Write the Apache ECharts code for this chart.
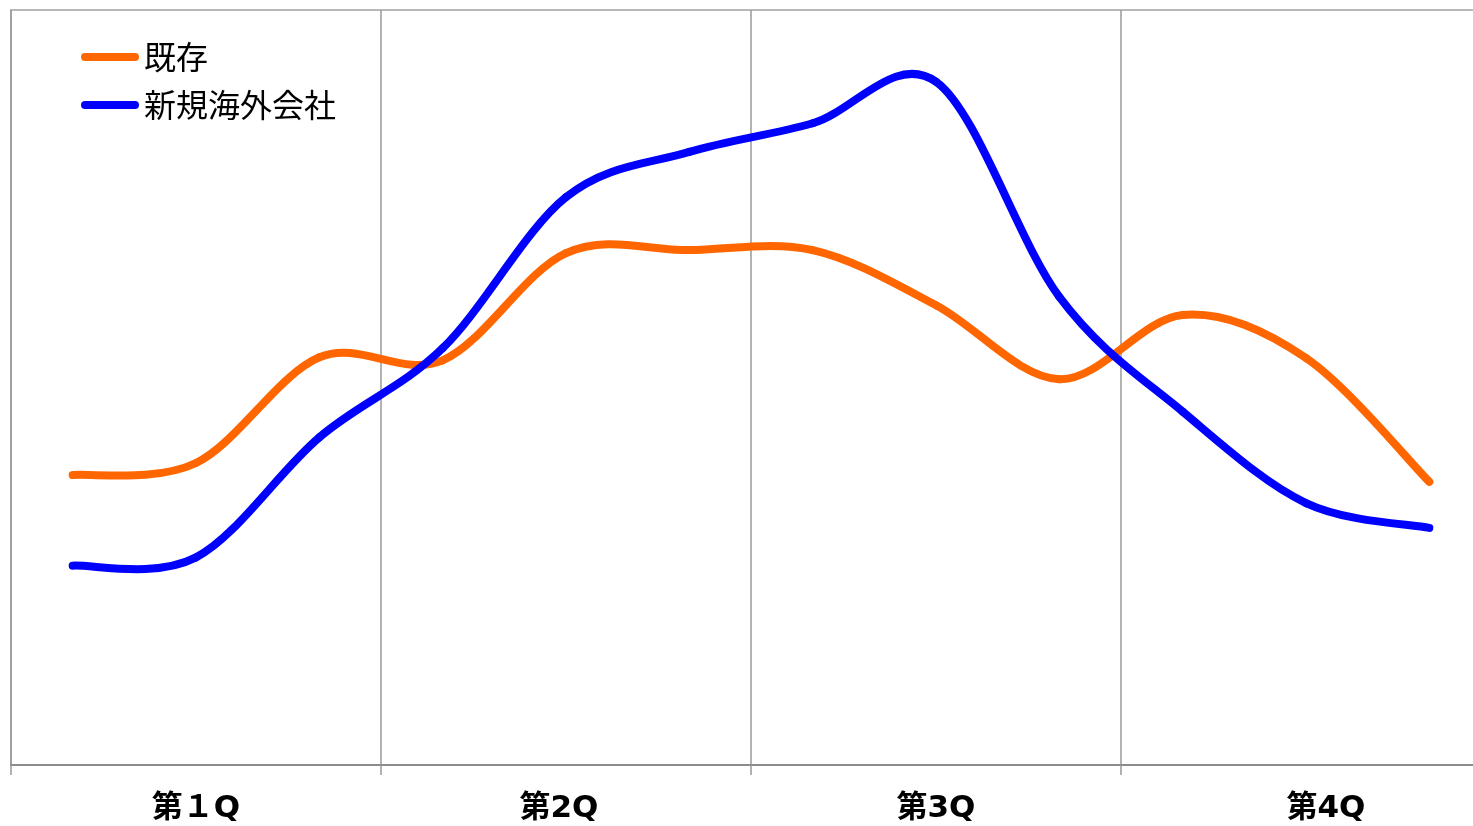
<!DOCTYPE html>
<html>
<head>
<meta charset="utf-8">
<script src="https://cdn.jsdelivr.net/npm/echarts@6/dist/echarts.min.js"></script>
<style>
html,body{margin:0;padding:0;background:#fff;overflow:hidden;width:1473px;height:826px;}
#chart{width:1493px;height:826px;}
</style>
</head>
<body>
<div id="chart"></div>
<script>
var months = ['1月','2月','3月','4月','5月','6月','7月','8月','9月','10月','11月','12月'];
var quarterLabels = ['第１Q','第2Q','第3Q','第4Q'];
var seriesNames = ['既存','新規海外会社'];
var existing = [38.4, 40.0, 54.0, 53.6, 67.8, 68.2, 68.2, 60.9, 51.1, 59.6, 53.9, 37.5];
var overseas = [26.4, 27.5, 43.4, 55.2, 75.2, 81.2, 85.0, 90.5, 62.0, 46.8, 34.7, 31.4];
var seriesColors = ['#FF6600', '#0000FF'];

// Excel-like smoothed line (Catmull-Rom Bezier segments) computed with the axis scales
function makeRender(values, color) {
  return function (params, api) {
    var i = params.dataIndex;
    var n = values.length;
    if (i >= n - 1) return null;
    function P(k) { k = Math.max(0, Math.min(n - 1, k)); return api.coord([k, values[k]]); }
    var p0 = P(i - 1), p1 = P(i), p2 = P(i + 1), p3 = P(i + 2);
    var f = 1 / 6;
    return {
      type: 'bezierCurve',
      shape: {
        x1: p1[0], y1: p1[1], x2: p2[0], y2: p2[1],
        cpx1: p1[0] + (p2[0] - p0[0]) * f, cpy1: p1[1] + (p2[1] - p0[1]) * f,
        cpx2: p2[0] - (p3[0] - p1[0]) * f, cpy2: p2[1] - (p3[1] - p1[1]) * f
      },
      style: { stroke: color, lineWidth: 8, lineCap: 'round', fill: null }
    };
  };
}

var chart = echarts.init(document.getElementById('chart'), null, {renderer:'canvas'});
var legendIcon = 'path://M4,0 H54 A4,4 0 0 1 54,8 H4 A4,4 0 0 1 4,0 Z';
var labelFont = '"DejaVu Sans", "Noto Sans CJK JP", sans-serif';
function richStyle(extra) {
  var s = {fontSize:31, fontWeight:'bold', color:'#000', fontFamily:labelFont};
  if (extra) s.padding = extra;
  return s;
}
chart.setOption({
  animation:false,
  backgroundColor:'#ffffff',
  grid:{left:11, top:10, right:2, bottom:61, show:true, borderColor:'#b8b8b8', borderWidth:2, backgroundColor:'transparent'},
  legend:{
    orient:'vertical', left:81, top:41, padding:0, itemWidth:58, itemHeight:8, itemGap:16,
    icon:legendIcon, symbolKeepAspect:false,
    textStyle:{fontFamily:'"Noto Sans CJK JP", sans-serif', fontSize:32, color:'#000'},
    data:[{name:seriesNames[0], itemStyle:{color:seriesColors[0]}},{name:seriesNames[1], itemStyle:{color:seriesColors[1]}}]
  },
  xAxis:{
    type:'category', data:months, boundaryGap:true,
    axisLine:{show:true, lineStyle:{color:'#8c8c8c', width:2}},
    axisTick:{show:true, length:10, interval:function(i){return i%3===0;}, lineStyle:{color:'#999', width:1.5}},
    splitLine:{show:true, interval:function(i){return i%3===0;}, lineStyle:{color:'#9a9a9a', width:1.5}},
    axisLabel:{
      interval:function(i){return i%3===1;},
      formatter:function(v,i){var q=Math.floor(i/3); return '{q'+q+'|'+quarterLabels[q]+'}';},
      margin:28, fontSize:31, fontWeight:'bold', color:'#000', fontFamily:labelFont,
      rich:{
        q0:richStyle(),
        q1:richStyle([0,14,0,0]),
        q2:richStyle(),
        q3:richStyle([0,0,0,40])
      }
    }
  },
  yAxis:{type:'value', min:0, max:100, show:false, splitLine:{show:false}},
  series:[
    {name:seriesNames[0], type:'custom', renderItem:makeRender(existing, seriesColors[0]),
     data:existing.map(function(v,i){return [i,v];}), encode:{x:0,y:1}, itemStyle:{color:seriesColors[0]}, clip:false},
    {name:seriesNames[1], type:'custom', renderItem:makeRender(overseas, seriesColors[1]),
     data:overseas.map(function(v,i){return [i,v];}), encode:{x:0,y:1}, itemStyle:{color:seriesColors[1]}, clip:false}
  ]
});
</script>
</body>
</html>
